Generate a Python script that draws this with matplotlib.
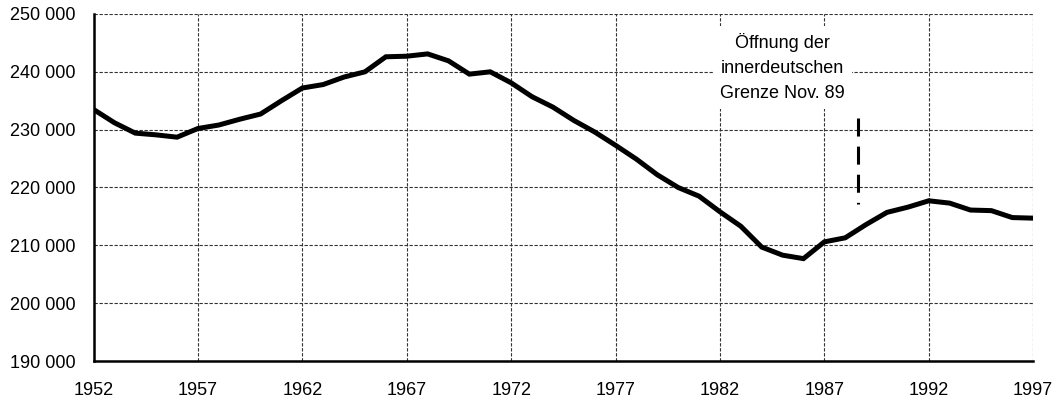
import matplotlib
matplotlib.use("Agg")
import matplotlib.pyplot as plt
from matplotlib.ticker import FuncFormatter, MultipleLocator

# yearly values
years = list(range(1952, 1998))
values = [
    233500, 231200, 229400, 229100, 228700, 230200, 230800, 231800, 232700, 235000,
    237200, 237800, 239100, 240000, 242600, 242700, 243100, 241900, 239600, 240000,
    238100, 235700, 233900, 231600, 229600, 227300, 224900, 222200, 220000, 218500,
    215800, 213300, 209700, 208300, 207700, 210600, 211300, 213600, 215700, 216600,
    217700, 217300, 216100, 216000, 214800, 214700,
]
xticks = list(range(1952, 1998, 5))

# marker for the opening of the border
marker_year = 1988.6
marker_top = 231950
marker_bottom = 217150
note_text = "Öffnung der\ninnerdeutschen\nGrenze Nov. 89"

plt.rcParams['font.family'] = ['Liberation Sans', 'DejaVu Sans']

fig = plt.figure(figsize=(10.59, 4.03), dpi=100)
ax = fig.add_axes([0.0883, 0.1042, 0.8873, 0.8611])

ax.plot(years, values, color='black', lw=3.6, solid_joinstyle='miter', zorder=3)
ax.plot([marker_year, marker_year], [marker_top, marker_bottom], color='black',
        lw=2.2, linestyle=(0, (5.9, 3.3)), zorder=3)

ax.text(1985.0, 240700, note_text, ha='center', va='center', fontsize=13,
        linespacing=1.62, zorder=4,
        bbox=dict(facecolor='white', edgecolor='none', pad=5))

ax.set_xlim(1952, 1997)
ax.set_ylim(190000, 250000)
ax.set_xticks(xticks)
ax.yaxis.set_major_locator(MultipleLocator(10000))
ax.yaxis.set_major_formatter(FuncFormatter(lambda v, p: f"{int(v):,}".replace(",", " ")))

ax.grid(True, color='#333333', lw=0.8, linestyle=(0, (3, 1.5)), zorder=1)
for s in ['top', 'right']:
    ax.spines[s].set_visible(False)
for s in ['left', 'bottom']:
    ax.spines[s].set_linewidth(1.8)
ax.tick_params(length=0, labelsize=13)
ax.tick_params(axis='y', pad=13)
ax.tick_params(axis='x', pad=15)

fig.savefig("out.png", dpi=100)
